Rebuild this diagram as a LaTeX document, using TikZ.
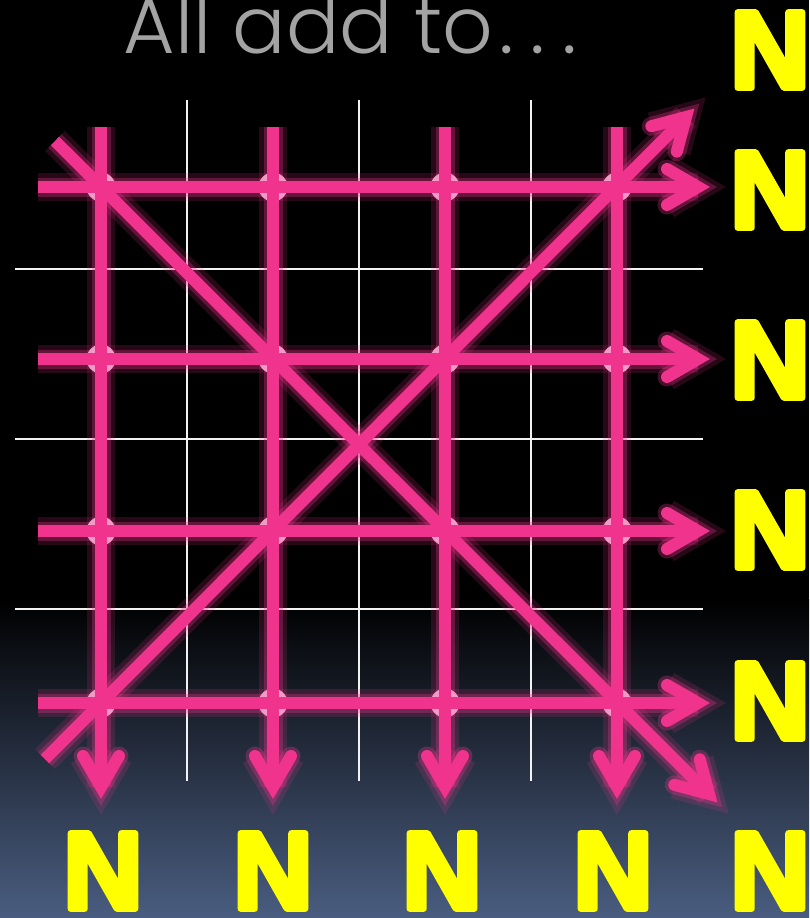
\documentclass[tikz,border=0pt]{standalone}
\usepackage{fontspec}
\usepackage{xcolor}
\usetikzlibrary{calc}
\newfontfamily\titlefont{Poppins Light}
\newfontfamily\sumfont{Liberation Sans}
\definecolor{hotpink}{HTML}{F0338C}
\definecolor{knotpink}{HTML}{F29AC6}
\definecolor{gridwhite}{HTML}{F2F2F2}
\definecolor{sumyellow}{HTML}{FFFF00}
\definecolor{titlegrey}{HTML}{A3A3A3}
\definecolor{dusk}{HTML}{4A5D80}
% rounded strokes on the totals
\newcommand{\roundN}{\special{pdf:literal direct 1 j 1 J 6 w 2 Tr}N\special{pdf:literal direct 0 Tr}}

\begin{document}
\begin{tikzpicture}[x=1pt, y=-1pt,
    glow/.style={hotpink, opacity=.3, line width=19pt,
      preaction={draw, hotpink, opacity=.16, line width=28pt}},
    sumline/.style={hotpink, line width=12pt},
    barb/.style={line cap=round, line join=miter},
    gridline/.style={gridwhite, line width=2pt},
    sum/.style={sumyellow, font=\sumfont\bfseries\fontsize{110}{110}\selectfont, inner sep=0pt}]
  % backdrop
  \useasboundingbox (0,0) rectangle (809,918);
  \fill[black] (0,0) rectangle (809,600);
  \shade[top color=black, bottom color=dusk] (0,599) rectangle (809,918);

  % title
  \node[titlegrey, anchor=base west, font=\titlefont\fontsize{79}{79}\selectfont] (title) at (120,53)
    {All add to\kern6pt.\kern17pt.\kern17pt.};

  % white grid
  \foreach \x in {187,359,531}
    \draw[gridline] (\x,100) -- (\x,781);
  \foreach \y in {269,439,609}
    \draw[gridline] (15,\y) -- (703,\y);

  % end points of the sums
  \foreach \i/\x in {1/101,2/273,3/445,4/617}{
    \coordinate (col\i-in) at (\x,127);
    \coordinate (col\i-out) at (\x,787);
  }
  \foreach \i/\y in {1/187,2/359,3/531,4/703}{
    \coordinate (row\i-in) at (38,\y);
    \coordinate (row\i-out) at (698,\y);
  }
  \coordinate (diag1-in) at (55,141);  \coordinate (diag1-out) at (709,794);
  \coordinate (diag2-in) at (45,759);  \coordinate (diag2-out) at (686,117);

  % barbs of the heads
  \foreach \p in {col1,col2,col3,col4,row1,row2,row3,row4,diag1,diag2}{
    \coordinate (\p-back) at ($(\p-out)!31pt!(\p-in)$);
    \coordinate (\p-left) at ($(\p-back)!18pt!90:(\p-out)$);
    \coordinate (\p-right) at ($(\p-back)!18pt!-90:(\p-out)$);
  }

  % glow, knots, then the lines
  \foreach \p in {col1,col2,col3,col4,row1,row2,row3,row4,diag1,diag2}{
    \draw[glow] (\p-in) -- (\p-out);
    \draw[barb, glow] (\p-left) -- (\p-out) -- (\p-right);
  }
  \foreach \x in {101,273,445,617}
    \foreach \y in {187,359,531,703}
      \fill[knotpink] (\x,\y) circle (14.5pt);
  \foreach \p in {col1,col2,col3,col4,row1,row2,row3,row4,diag1,diag2}{
    \draw[sumline] (\p-in) -- (\p-out);
    \draw[barb, sumline] (\p-left) -- (\p-out) -- (\p-right);
  }

  % totals
  \node[sum] (sum-diag2) at (770,50) {\roundN};
  \foreach \i/\y in {1/190,2/360,3/530,4/701}
    \node[sum] (sum-row\i) at (770,\y) {\roundN};
  \foreach \i/\x in {1/103,2/273,3/442,4/613}
    \node[sum] (sum-col\i) at (\x,871) {\roundN};
  \node[sum] (sum-diag1) at (770,871) {\roundN};
\end{tikzpicture}
\end{document}
